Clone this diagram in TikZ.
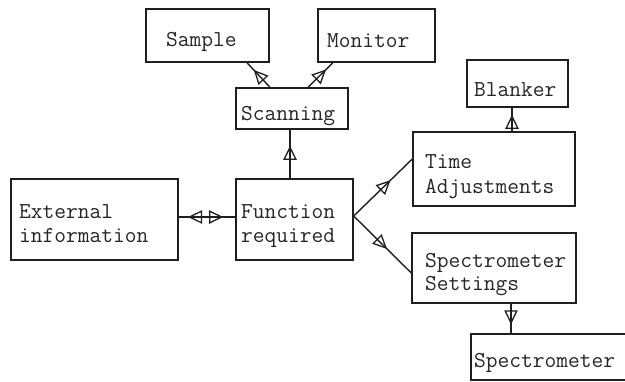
\documentclass[tikz,border=0pt]{standalone}
\usetikzlibrary{decorations.markings}
\begin{document}
\begin{tikzpicture}[x=1pt,y=-1pt,
  ink/.style={draw=black!88, line width=1.4pt},
  box/.style={ink, rectangle, inner sep=0pt},
  lbl/.style={inner sep=0pt, anchor=base west, text=black!85,
    font=\fontsize{22.8}{25}\selectfont\ttfamily},
  % open triangular head sitting on the line, tip at the mark
  headfwd/.style={decoration={markings, mark=at position #1 with
    {\draw[black!88, line width=1.3pt, line join=miter] (0,0) -- (-12,5.8) -- (-12,-5.8) -- cycle;}}},
  headback/.style={decoration={markings, mark=at position #1 with
    {\draw[black!88, line width=1.3pt, line join=miter] (0,0) -- (12,5.8) -- (12,-5.8) -- cycle;}}},
  flow/.style={ink, postaction={decorate, headfwd=#1}}
]
\useasboundingbox (0,0) rectangle (625,381);
\clip (0,0) rectangle (625,381);
\fill[white] (0,0) rectangle (625,381);

% boxes
\node[box, minimum width=123pt, minimum height=53pt] (sample)  at (207.5,35.5) {};
\node[box, minimum width=117pt, minimum height=53pt] (monitor) at (376.5,35.5) {};
\node[box, minimum width=112pt, minimum height=41pt] (scan)    at (292,108.5) {};
\node[box, minimum width=101pt, minimum height=47pt] (blank)   at (517.5,83.5) {};
\node[box, minimum width=162pt, minimum height=74pt] (time)    at (494,169) {};
\node[box, minimum width=167pt, minimum height=81pt] (ext)     at (94.5,219.5) {};
\node[box, minimum width=117pt, minimum height=81pt] (func)    at (294.5,219.5) {};
\node[box, minimum width=164pt, minimum height=70pt] (sett)    at (494,268) {};
\node[box, minimum width=160pt, minimum height=46pt] (spec)    at (551,357) {};

% labels
\node[lbl] (tsample)  at (166,46)  {Sample};
\node[lbl] (tmonitor) at (327,47)  {Monitor};
\node[lbl] (tscan)    at (241,120) {Scanning};
\node[lbl] (tblank)   at (474,96)  {Blanker};
\node[lbl] (ttime1)   at (425,168) {Time};
\node[lbl] (ttime2)   at (425,193) {Adjustments};
\node[lbl] (text1)    at (19,218)  {External};
\node[lbl] (text2)    at (19,242)  {information};
\node[lbl] (tfunc1)   at (241,218) {Function};
\node[lbl] (tfunc2)   at (241,242) {required};
\node[lbl] (tsett1)   at (425,267) {Spectrometer};
\node[lbl] (tsett2)   at (425,290) {Settings};
\node[lbl] (tspec)    at (474,367) {Spectrometer};

% connectors
\draw[flow=0.66] ([xshift=-22pt]scan.north) -- ([xshift=39.5pt]sample.south);
\draw[flow=0.68] ([xshift=16pt]scan.north) -- ([xshift=-43.5pt]monitor.south);
\draw[flow=0.64] ([xshift=-4.5pt]func.north) -- ([xshift=-2pt]scan.south);
\draw[flow=0.64] ([xshift=18pt]time.north) -- ([xshift=-5.5pt]blank.south);
\draw[flow=0.61] ([yshift=3.5pt]func.east) -- ([yshift=10pt]time.west);
\draw[flow=0.56] ([yshift=3.5pt]func.east) -- ([yshift=-5pt]sett.west);
\draw[flow=0.65] ([xshift=17pt]sett.south) -- ([xshift=-40pt]spec.north);
\draw[flow=0.76, postaction={decorate, headback=0.19}]
  ([yshift=2.5pt]ext.east) -- ([yshift=2.5pt]func.west);
\end{tikzpicture}
\end{document}
